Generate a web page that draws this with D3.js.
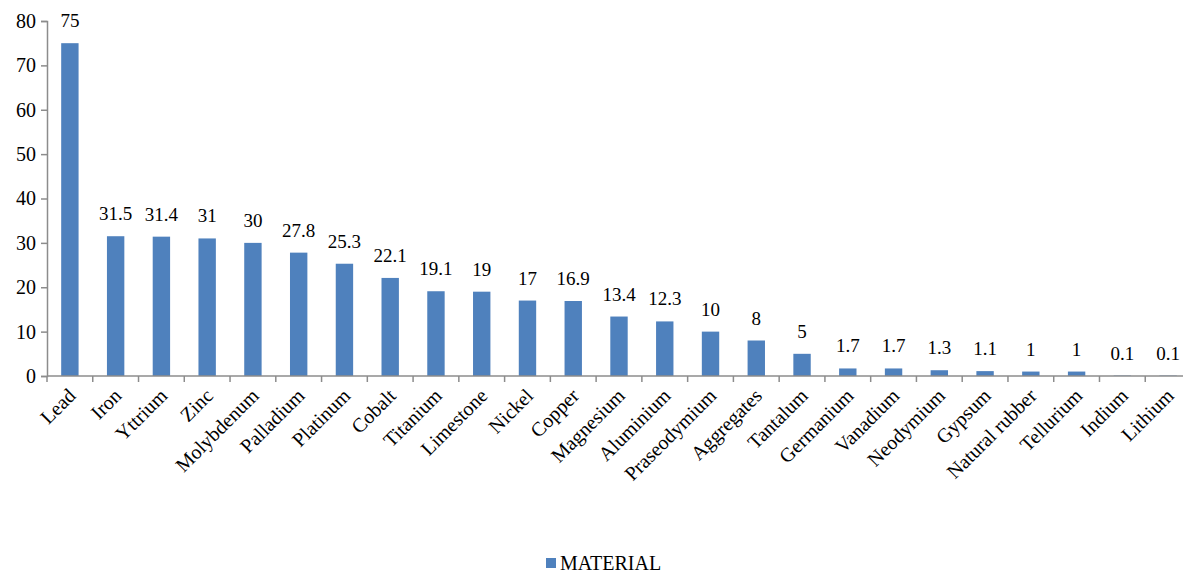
<!DOCTYPE html>
<html>
<head>
<meta charset="utf-8">
<script src="https://cdn.jsdelivr.net/npm/d3@7"></script>
</head>
<body style="margin:0;background:#fff">
<svg width="1183" height="575"></svg>
<script>
const categories = ["Lead", "Iron", "Yttrium", "Zinc", "Molybdenum", "Palladium", "Platinum", "Cobalt",
  "Titanium", "Limestone", "Nickel", "Copper", "Magnesium", "Aluminium", "Praseodymium", "Aggregates",
  "Tantalum", "Germanium", "Vanadium", "Neodymium", "Gypsum", "Natural rubber", "Tellurium", "Indium", "Lithium"];
const values = [75, 31.5, 31.4, 31, 30, 27.8, 25.3, 22.1, 19.1, 19, 17, 16.9, 13.4, 12.3, 10, 8, 5,
  1.7, 1.7, 1.3, 1.1, 1, 1, 0.1, 0.1];
const yTicks = [0, 10, 20, 30, 40, 50, 60, 70, 80];
const seriesName = "MATERIAL";

const dataset = categories.map((c, i) => ({ name: c, value: values[i] }));

const fontName = "Liberation Serif";
const font = `"${fontName}", monospace`;
const svg = d3.select("svg");
const axisColor = "#8c8c8c";
const barColor = "#4f81bd";

const x = d3.scaleBand()
    .domain(categories)
    .range([47, 1191])
    .paddingInner(0.62)
    .paddingOuter(0.31);

const y = d3.scaleLinear()
    .domain([0, 80])
    .range([376, 21]);

// y axis
const yAxis = svg.append("g")
    .attr("transform", "translate(47,0)")
    .call(d3.axisLeft(y).tickValues(yTicks).tickSize(6).tickPadding(5));
yAxis.attr("font-family", font).attr("font-size", 20);
yAxis.select(".domain").attr("stroke", axisColor).attr("stroke-width", 1.5);
yAxis.selectAll(".tick line").attr("stroke", axisColor).attr("stroke-width", 1.5);
yAxis.selectAll(".tick text")
    .attr("fill", "#000")
    .attr("font-family", font)
    .attr("font-size", 20);

// bars
svg.selectAll(".bar")
    .data(dataset)
    .enter().append("rect")
    .attr("class", "bar")
    .attr("x", d => x(d.name))
    .attr("y", d => y(d.value))
    .attr("width", x.bandwidth())
    .attr("height", d => y(0) - y(d.value))
    .attr("fill", barColor);

// x axis line with ticks between categories
const step = x.step();
const xStart = x.range()[0];
const xg = svg.append("g");
xg.append("line")
    .attr("x1", xStart).attr("x2", x.range()[1])
    .attr("y1", y(0)).attr("y2", y(0))
    .attr("stroke", axisColor).attr("stroke-width", 1.5);
xg.selectAll(".xtick")
    .data(d3.range(categories.length + 1))
    .enter().append("line")
    .attr("x1", i => xStart + i * step)
    .attr("x2", i => xStart + i * step)
    .attr("y1", y(0)).attr("y2", y(0) + 6)
    .attr("stroke", axisColor).attr("stroke-width", 1.5);

// category labels
svg.selectAll(".cat")
    .data(dataset)
    .enter().append("text")
    .attr("class", "cat")
    .attr("text-anchor", "end")
    .attr("font-family", font)
    .attr("font-size", 20)
    .attr("transform", d => `translate(${x(d.name) + x.bandwidth() / 2 + 7},${y(0) + 21}) rotate(-45)`)
    .text(d => d.name);

// value labels
svg.selectAll(".val")
    .data(dataset)
    .enter().append("text")
    .attr("class", "val")
    .attr("text-anchor", "middle")
    .attr("font-family", font)
    .attr("font-size", 19)
    .attr("x", d => x(d.name) + x.bandwidth() / 2)
    .attr("y", d => y(d.value) - 16)
    .text(d => d.value);

// legend
const legend = svg.append("g").attr("transform", "translate(546,558)");
legend.append("rect").attr("width", 10).attr("height", 10).attr("fill", barColor);
legend.append("text")
    .attr("x", 14).attr("y", 12)
    .attr("font-family", font)
    .attr("font-size", 20)
    .text(seriesName);
</script>
</body>
</html>
